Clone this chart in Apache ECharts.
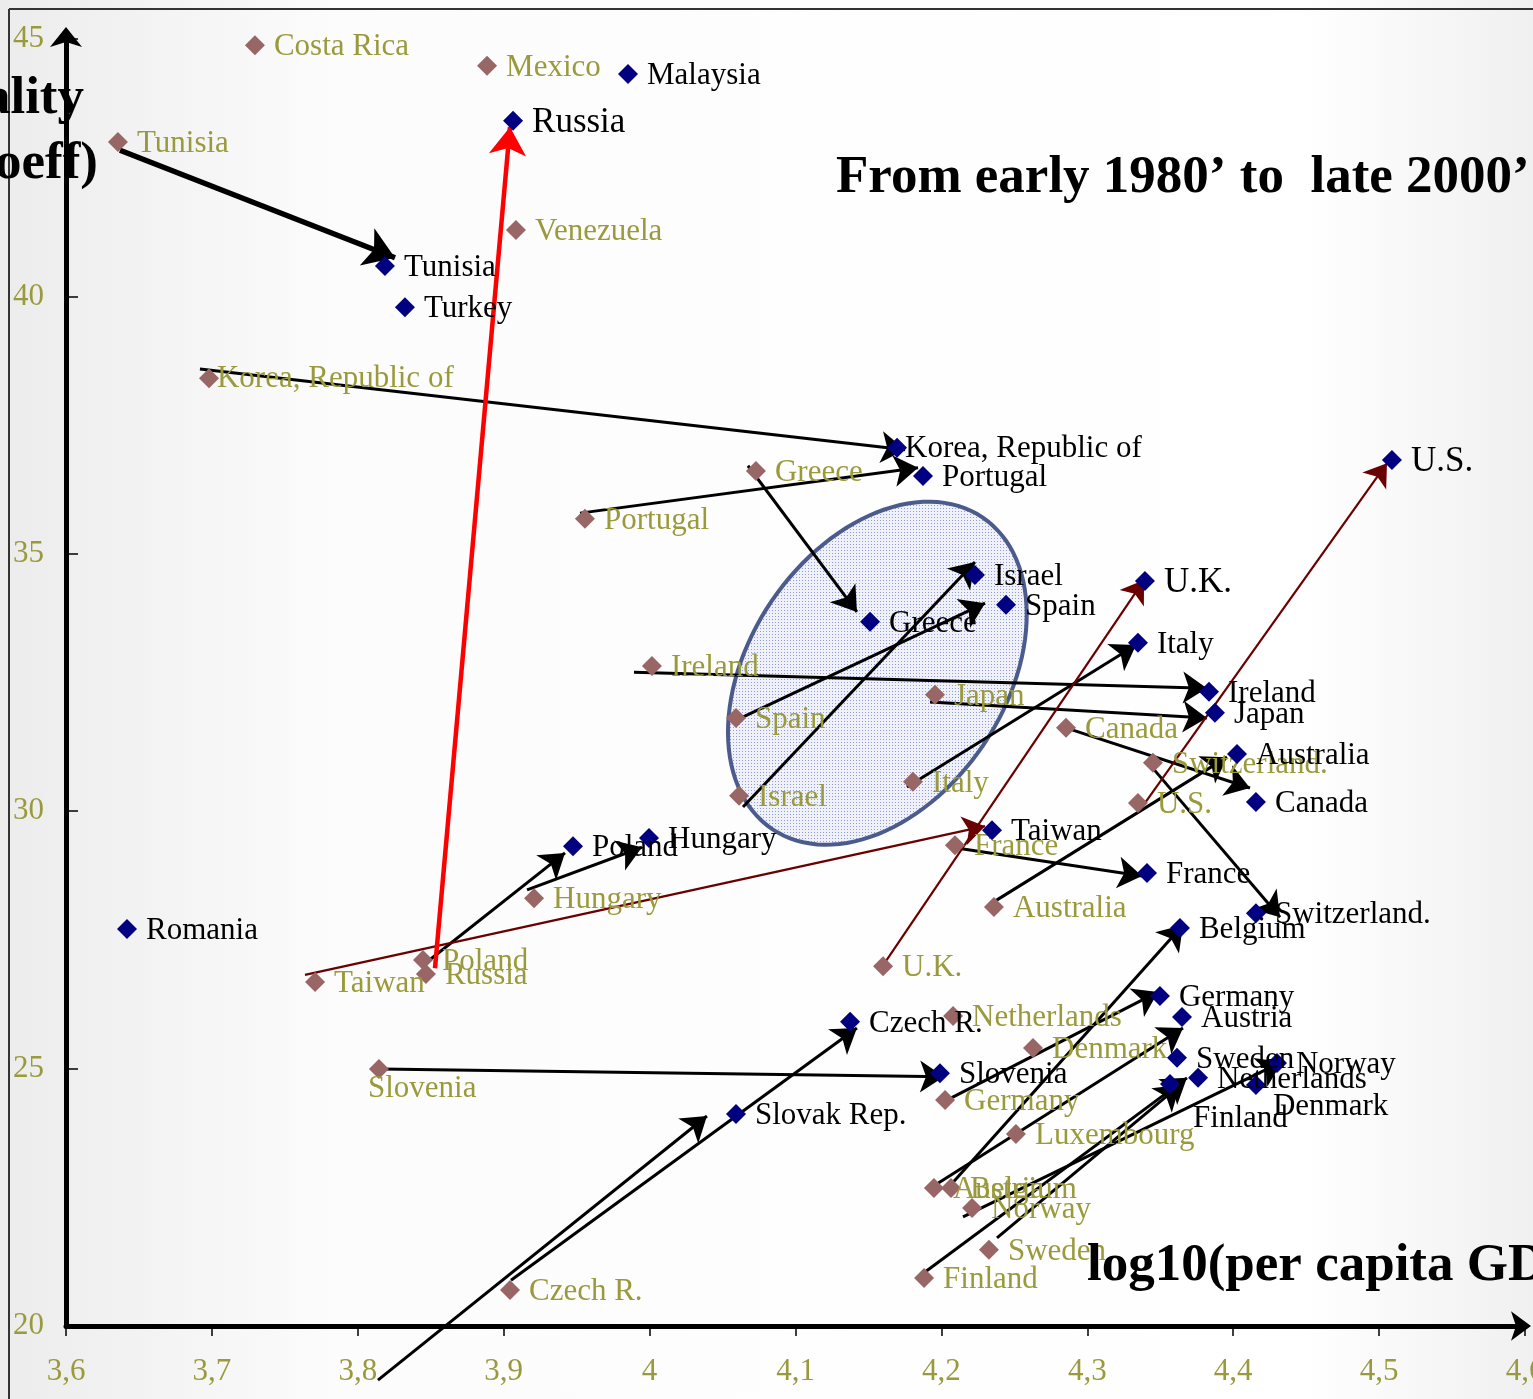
<!DOCTYPE html>
<html>
<head>
<meta charset="utf-8">
<script src="https://cdn.jsdelivr.net/npm/echarts@6/dist/echarts.min.js"></script>
<style>
  html, body { margin: 0; padding: 0; background: #fff; }
  #main { width: 1533px; height: 1399px; }
</style>
</head>
<body>
<div id="main"></div>
<script>
// early 1980s (brown diamonds)
const earlyNames = ['Costa Rica', 'Mexico', 'Tunisia', 'Venezuela', 'Korea, Republic of', 'Greece', 'Portugal',
  'Ireland', 'Spain', 'Japan', 'Canada', 'Switzerland.', 'Israel', 'Italy', 'U.S.', 'France', 'Hungary',
  'Australia', 'Taiwan', 'Poland', 'Russia', 'U.K.', 'Netherlands', 'Denmark', 'Slovenia', 'Germany',
  'Luxembourg', 'Austria', 'Belgium', 'Norway', 'Sweden', 'Finland', 'Czech R.'];
const earlyGdp = [3.7295, 3.8886, 3.6356, 3.9084, 3.6980, 4.0729, 3.9557,
  4.0016, 4.0592, 4.1956, 4.2854, 4.3450, 4.0613, 4.1805, 4.3347, 4.2093, 3.9208,
  4.2360, 3.7707, 3.8447, 3.8467, 4.1600, 4.2080, 4.2628, 3.8145, 4.2025,
  4.2511, 4.1949, 4.2066, 4.2210, 4.2326, 4.1881, 3.9043];
const earlyGini = [44.88, 44.48, 43.00, 41.29, 38.41, 36.61, 35.68,
  32.82, 31.81, 32.26, 31.62, 30.94, 30.30, 30.57, 30.16, 29.34, 28.31,
  28.14, 26.68, 27.11, 26.84, 26.99, 26.02, 25.40, 24.99, 24.39,
  23.73, 22.68, 22.68, 22.29, 21.48, 20.93, 20.70];

// late 2000s (navy diamonds)
const lateNames = ['Malaysia', 'Russia', 'Tunisia', 'Turkey', 'Korea, Republic of', 'Portugal', 'U.S.',
  'Israel', 'U.K.', 'Spain', 'Greece', 'Italy', 'Ireland', 'Japan', 'Australia', 'Canada', 'Hungary',
  'Poland', 'Taiwan', 'France', 'Switzerland.', 'Romania', 'Belgium', 'Germany', 'Austria', 'Czech R.',
  'Sweden', 'Norway', 'Netherlands', 'Slovenia', 'Finland', 'Denmark', 'Slovak Rep.'];
const lateGdp = [3.9852, 3.9064, 3.8186, 3.8323, 4.1696, 4.1874, 4.5088,
  4.2230, 4.3395, 4.2443, 4.1511, 4.3347, 4.3834, 4.3875, 4.4026, 4.4156, 3.9996,
  3.9475, 4.2347, 4.3409, 4.4156, 3.6418, 4.3635, 4.3498, 4.3649, 4.1374,
  4.3615, 4.4300, 4.3759, 4.1990, 4.3567, 4.4156, 4.0592];
const lateGini = [44.32, 43.41, 40.59, 39.79, 37.06, 36.51, 36.82,
  34.59, 34.47, 34.01, 33.68, 33.27, 32.32, 31.91, 31.11, 30.18, 29.48,
  29.32, 29.63, 28.80, 28.02, 27.71, 27.73, 26.41, 26.00, 25.91,
  25.21, 25.11, 24.82, 24.91, 24.70, 24.68, 24.12];

// arrows: start and end in chart units
const arrowKind = ['bold', 'red', 'black', 'black', 'black', 'black', 'black', 'black', 'black', 'black',
  'black', 'black', 'black', 'thin', 'thin', 'thin', 'black', 'black', 'black', 'black', 'black', 'black',
  'black', 'black', 'black', 'black', 'black', 'black'];
const arrowX0 = [3.6370, 3.8529, 3.6918, 3.9523, 4.0674, 4.0565, 4.0640, 3.9893, 4.1922, 4.1764,
  4.2854, 4.3430, 4.2326, 4.3375, 4.1579, 3.7638, 4.2093, 3.8474, 3.9160, 3.8159, 3.8138, 3.9050,
  4.2011, 4.1936, 4.2045, 4.1888, 4.2148, 4.2381];
const arrowY0 = [42.84, 26.95, 38.59, 35.79, 36.71, 31.73, 30.08, 32.70, 32.12, 30.47,
  31.62, 30.90, 28.18, 30.08, 26.92, 26.82, 29.29, 27.07, 28.47, 24.99, 18.95, 20.89,
  24.35, 22.70, 22.68, 21.05, 22.12, 21.71];
const arrowX1 = [3.8255, 3.9043, 4.1751, 4.1840, 4.1421, 4.2299, 4.2230, 4.3820, 4.3820, 4.3334,
  4.4115, 4.4321, 4.3958, 4.5054, 4.3389, 4.2299, 4.3375, 3.9420, 3.9948, 4.2018, 4.0393, 4.1421,
  4.3485, 4.3656, 4.3656, 4.3683, 4.4334, 4.3635];
const arrowY1 = [40.75, 43.29, 37.02, 36.67, 33.87, 34.04, 34.84, 32.39, 31.81, 33.23,
  30.45, 27.94, 31.05, 36.76, 34.49, 29.71, 28.74, 29.19, 29.30, 24.84, 24.08, 25.79,
  26.49, 25.79, 27.79, 24.82, 25.13, 24.68];

// highlighted cluster (ellipse centre)
const clusterCentre = [4.1561, 32.68];

const xTicks = { min: 3.6, max: 4.6, step: 0.1 };
const yTicks = { min: 20, max: 45, step: 5 };

const olive = '#9a9a3c';
const serif = 'Liberation Serif';
const mark = 20;

// label placement tweaks (px from marker centre)
const earlyLabelOffset = { 'Korea, Republic of': [8, 1], 'Slovenia': [-11, 20] };
const lateLabelOffset = { 'Korea, Republic of': [8, 1], 'Finland': [23, 35], 'Denmark': [17, 22] };
const lateBigLabel = { 'Russia': 35, 'U.S.': 35, 'U.K.': 35 };

function pointData(names, xs, ys, offsets, sizes) {
  return names.map((n, i) => {
    const o = offsets[n] || [19, 2];
    const it = { name: n, value: [xs[i], ys[i]], label: { position: [o[0] + mark / 2, o[1] + mark / 2] } };
    if (sizes[n]) it.label.fontSize = sizes[n];
    return it;
  });
}

function arrowData(kind) {
  const out = [];
  for (let i = 0; i < arrowKind.length; i++) {
    if (arrowKind[i] === kind) out.push({ coords: [[arrowX0[i], arrowY0[i]], [arrowX1[i], arrowY1[i]]] });
  }
  return out;
}

function arrowSeries(kind, color, width, size) {
  return {
    type: 'lines', coordinateSystem: 'cartesian2d', z: 3, clip: false, silent: true,
    symbol: ['none', 'arrow'], symbolSize: size,
    lineStyle: { color: color, width: width, opacity: 1, curveness: 0 },
    data: arrowData(kind)
  };
}

// dotted fill for the ellipse
const dot = document.createElement('canvas');
dot.width = 3; dot.height = 3;
const g = dot.getContext('2d');
g.fillStyle = 'rgba(236,238,248,0.8)';
g.fillRect(0, 0, 3, 3);
g.fillStyle = '#8b9cd8';
g.fillRect(1, 1, 1, 1);

const chart = echarts.init(document.getElementById('main'));

const option = {
  animation: false,
  backgroundColor: 'transparent',
  grid: { left: 66, right: 8, top: 39, bottom: 73, outerBoundsMode: 'none', containLabel: false },
  xAxis: {
    type: 'value', min: xTicks.min, max: xTicks.max, interval: xTicks.step,
    axisLine: { show: true, lineStyle: { color: '#000', width: 5 }, symbol: ['none', 'arrow'], symbolSize: [22, 20], symbolOffset: [0, 6] },
    axisTick: { show: true, length: 10, lineStyle: { color: '#000', width: 1.5 } },
    axisLabel: {
      color: olive, fontFamily: serif, fontSize: 31, margin: 30,
      formatter: v => String(Math.round(v * 10) / 10).replace('.', ',')
    },
    splitLine: { show: false }
  },
  yAxis: {
    type: 'value', min: yTicks.min, max: yTicks.max, interval: yTicks.step,
    axisLine: { show: true, lineStyle: { color: '#000', width: 5 }, symbol: ['none', 'arrow'], symbolSize: [24, 20], symbolOffset: [0, 12] },
    axisTick: { show: true, inside: true, length: 12, lineStyle: { color: '#000', width: 1.5 } },
    axisLabel: { color: olive, fontFamily: serif, fontSize: 31, margin: 22 },
    splitLine: { show: false }
  },
  graphic: [
    {
      type: 'rect', z: -100, shape: { x: 0, y: 0, width: 1533, height: 1399 },
      style: {
        fill: new echarts.graphic.LinearGradient(0, 0, 1, 0, [
          { offset: 0, color: '#ececec' }, { offset: 0.22, color: '#fcfcfc' },
          { offset: 0.85, color: '#ffffff' }, { offset: 1, color: '#f0f0f0' }
        ])
      }
    },
    { type: 'line', z: -50, shape: { x1: 9, y1: 9, x2: 1533, y2: 9 }, style: { stroke: '#333', lineWidth: 2 } },
    { type: 'line', z: -50, shape: { x1: 9, y1: 9, x2: 9, y2: 1399 }, style: { stroke: '#333', lineWidth: 2 } },
    {
      type: 'text', z: 100, left: 836, top: 152,
      style: { text: 'From early 1980’ to  late 2000’', font: 'bold 53px "Liberation Serif"', fill: '#000' }
    },
    {
      type: 'text', z: 100, left: 1087, top: 1240,
      style: { text: 'log10(per capita GDP)', font: 'bold 53px "Liberation Serif"', fill: '#000' }
    },
    {
      type: 'text', z: 100, x: 84, y: 73,
      style: { text: 'Inequality', font: 'bold 53px "Liberation Serif"', fill: '#000', textAlign: 'right', textVerticalAlign: 'top' }
    },
    {
      type: 'text', z: 100, x: 98, y: 138,
      style: { text: '(Gini coeff)', font: 'bold 53px "Liberation Serif"', fill: '#000', textAlign: 'right', textVerticalAlign: 'top' }
    }
  ],
  series: [
    {
      type: 'custom', z: 1, silent: true, clip: false,
      data: [clusterCentre],
      renderItem: function (params, api) {
        const c = api.coord([api.value(0), api.value(1)]);
        const a = 188, b = 128, th = 56 * Math.PI / 180;
        const pts = [];
        for (let k = 0; k < 120; k++) {
          const t = k / 120 * Math.PI * 2;
          pts.push([
            c[0] + a * Math.cos(t) * Math.cos(th) - b * Math.sin(t) * Math.sin(th),
            c[1] - (a * Math.cos(t) * Math.sin(th) + b * Math.sin(t) * Math.cos(th))
          ]);
        }
        return {
          type: 'polygon', shape: { points: pts },
          style: { fill: { type: 'pattern', image: dot, repeat: 'repeat' }, stroke: '#4b5b8c', lineWidth: 4 }
        };
      }
    },
    arrowSeries('black', '#000', 3, 24),
    arrowSeries('thin', '#6a0000', 2.2, 22),
    arrowSeries('bold', '#000', 5.5, 30),
    arrowSeries('red', '#ff0000', 4.5, 28),
    {
      type: 'scatter', z: 4, clip: false, silent: true,
      symbol: 'diamond', symbolSize: mark,
      itemStyle: { color: '#996666', opacity: 1 },
      label: { show: true, formatter: '{b}', color: olive, fontFamily: serif, fontSize: 31, align: 'left', verticalAlign: 'middle' },
      data: pointData(earlyNames, earlyGdp, earlyGini, earlyLabelOffset, {})
    },
    {
      type: 'scatter', z: 5, clip: false, silent: true,
      symbol: 'diamond', symbolSize: mark,
      itemStyle: { color: '#000080', opacity: 1 },
      label: { show: true, formatter: '{b}', color: '#000', fontFamily: serif, fontSize: 31, align: 'left', verticalAlign: 'middle' },
      data: pointData(lateNames, lateGdp, lateGini, lateLabelOffset, lateBigLabel)
    }
  ]
};

chart.setOption(option);
</script>
</body>
</html>
